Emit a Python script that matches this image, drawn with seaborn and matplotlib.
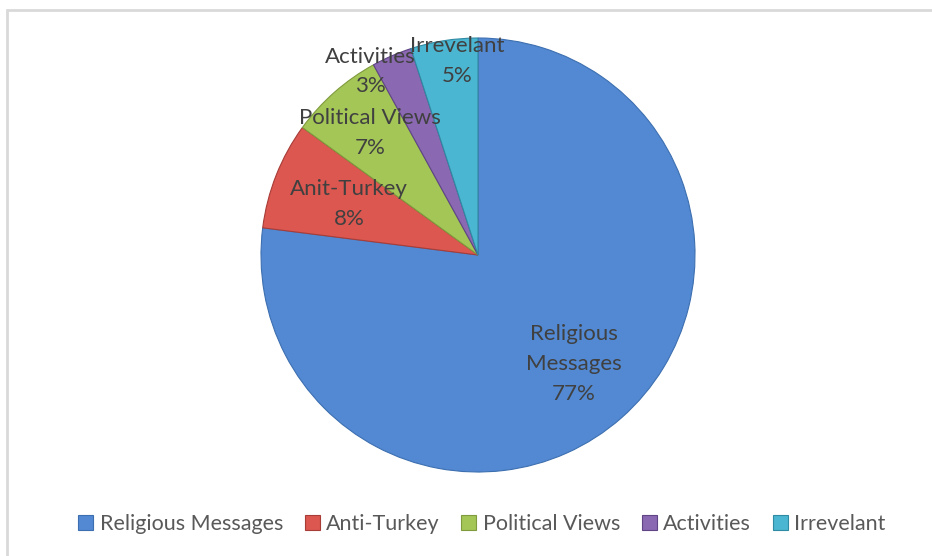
import numpy as np
import matplotlib
matplotlib.use("Agg")
import matplotlib.pyplot as plt
from matplotlib.patches import Patch, Rectangle
import seaborn as sns

categories = ["Religious Messages", "Anti-Turkey", "Political Views", "Activities", "Irrevelant"]
slice_labels = ["Religious\nMessages", "Anit-Turkey", "Political Views", "Activities", "Irrevelant"]
shares = [77, 8, 7, 3, 5]

colors = ["#5289d2", "#db5750", "#a3c657", "#8a68b2", "#4bb6d1"]
edge_colors = ["#3d6fb0", "#a83c37", "#7f9b3d", "#5f4486", "#2f8aa3"]

# label placement: radius (fraction of pie radius) and angle nudge (degrees)
label_radius = [0.67, 0.64, 0.75, 0.98, 0.90]
label_nudge = [0, 0, 0, 7, -3]

sns.set_theme(style="white")
plt.rcParams["font.family"] = ["Lato", "DejaVu Sans"]

W, H = 932, 556
fig = plt.figure(figsize=(W / 100, H / 100), dpi=100)
fig.patch.set_facecolor("white")

# chart frame (left and top edges show)
fig.add_artist(Rectangle((7 / W, -0.1), 1.2, (H - 10) / H + 0.1, transform=fig.transFigure,
                         fill=False, edgecolor="#d9d9d9", linewidth=2))

cx, cy, r = 478, 255, 217
ax = fig.add_axes([(cx - r) / W, (H - cy - r) / H, 2 * r / W, 2 * r / H])
wedges, _ = ax.pie(shares, colors=colors, startangle=90, counterclock=False,
                   wedgeprops=dict(linewidth=1.0, edgecolor="white"))
for w, ec in zip(wedges, edge_colors):
    w.set_edgecolor(ec)
    w.set_linewidth(0.8)
ax.set_xlim(-1, 1)
ax.set_ylim(-1, 1)
ax.set_aspect("equal")
ax.axis("off")

total = sum(shares)
start = 90.0
for lab, val, rad, nud in zip(slice_labels, shares, label_radius, label_nudge):
    sweep = 360.0 * val / total
    mid = np.deg2rad(start - sweep / 2 + nud)
    start -= sweep
    ax.text(rad * np.cos(mid), rad * np.sin(mid), f"{lab}\n{val}%",
            ha="center", va="center", fontsize=16, color="#404040", linespacing=1.6)

handles = [Patch(facecolor=c, edgecolor=e, linewidth=0.8) for c, e in zip(colors, edge_colors)]
fig.legend(handles, categories, loc="center", bbox_to_anchor=(0.517, 1 - 524 / H), ncol=5,
           frameon=False, fontsize=15.5, labelcolor="#595959", handlelength=0.7, handleheight=0.7,
           handletextpad=0.3, columnspacing=1.0)

fig.savefig("out.png", dpi=100)
